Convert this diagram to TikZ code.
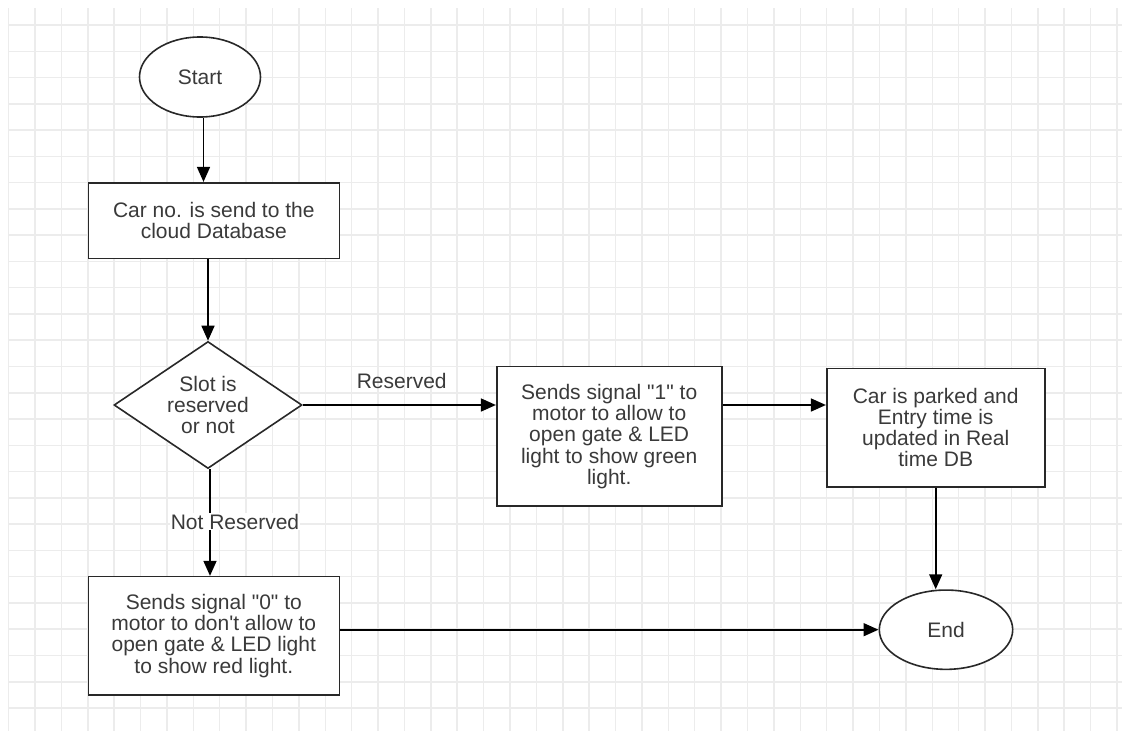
\documentclass[tikz,border=0pt]{standalone}
\usepackage{fontspec}
\setmainfont{Liberation Sans}[Ligatures=TeXOff]
\usetikzlibrary{shapes.geometric,arrows.meta,calc}
\definecolor{gridc}{RGB}{236,236,236}
\definecolor{txt}{RGB}{58,58,58}
\definecolor{edgec}{RGB}{40,40,40}
\begin{document}
\begin{tikzpicture}[x=1pt,y=-1pt,
  base/.style={draw=edgec,line width=1.6pt,fill=white,text=txt,font=\fontsize{21}{21.3}\selectfont,align=center,inner sep=0pt},
  term/.style={base,ellipse},
  procbox/.style={base,rectangle},
  decision/.style={base,diamond,aspect=1.48},
  arr/.style={draw=black,line width=1.6pt,-{Triangle[length=15pt,width=13pt]}},
  lbl/.style={text=txt,font=\fontsize{21}{21.3}\selectfont,inner sep=1pt}]
\useasboundingbox (0,0) rectangle (1122,731);
\fill[white] (0,0) rectangle (1122,731);
\begin{scope}
\clip (8,8) rectangle (1122,731);
\foreach \i in {0,...,42} \draw[gridc,line width=1.5pt] ({8.6+26.39*\i},8) -- ({8.6+26.39*\i},731);
\foreach \j in {0,...,26} \draw[gridc,line width=1.5pt] (8,{25+26.27*\j}) -- (1122,{25+26.27*\j});
\end{scope}

\node[term,minimum width=121pt,minimum height=80pt] (start) at (200,77) {Start};
\node[procbox,minimum width=251pt,minimum height=75.6pt] (box1) at (213.8,220.5) {Car no. is send to the\\cloud Database};
\node[decision,minimum width=188pt,minimum height=127pt] (dia) at (208,405) {Slot is\\reserved\\or not};
\node[procbox,minimum width=225pt,minimum height=139.3pt] (box2) at (609.2,436.3) {Sends signal "1" to\\motor to allow to\\open gate \& LED\\light to show green\\light.};
\node[procbox,minimum width=218pt,minimum height=118.4pt] (box3) at (935.7,427.5) {Car is parked and\\Entry time is\\updated in Real\\time DB};
\node[procbox,minimum width=251pt,minimum height=118.3pt] (box4) at (213.8,635.8) {Sends signal "0" to\\motor to don't allow to\\open gate \& LED light\\to show red light.};
\node[term,minimum width=133.4pt,minimum height=79.3pt] (end) at (946,629.7) {End};

\draw[arr] ([xshift=3.5pt]start.south) -- ([xshift=3.5pt]start.south |- box1.north);
\draw[arr] (dia.north |- box1.south) -- (dia.north);
\draw[arr] (dia.east) -- (box2.west |- dia.east);
\node[lbl] (lres) at (401.7,380.7) {Reserved};
\draw[arr] (box2.east |- dia.east) -- (box3.west |- dia.east);
\draw[arr] ([xshift=2pt]dia.south) -- ([xshift=2pt]dia.south |- box4.north);
\node[lbl,fill=white] (lnot) at (235,521.7) {Not Reserved};
\draw[arr] (box3.south) -- (box3.south |- end.north);
\draw[arr] (box4.east |- end.west) -- (end.west);
\end{tikzpicture}
\end{document}
